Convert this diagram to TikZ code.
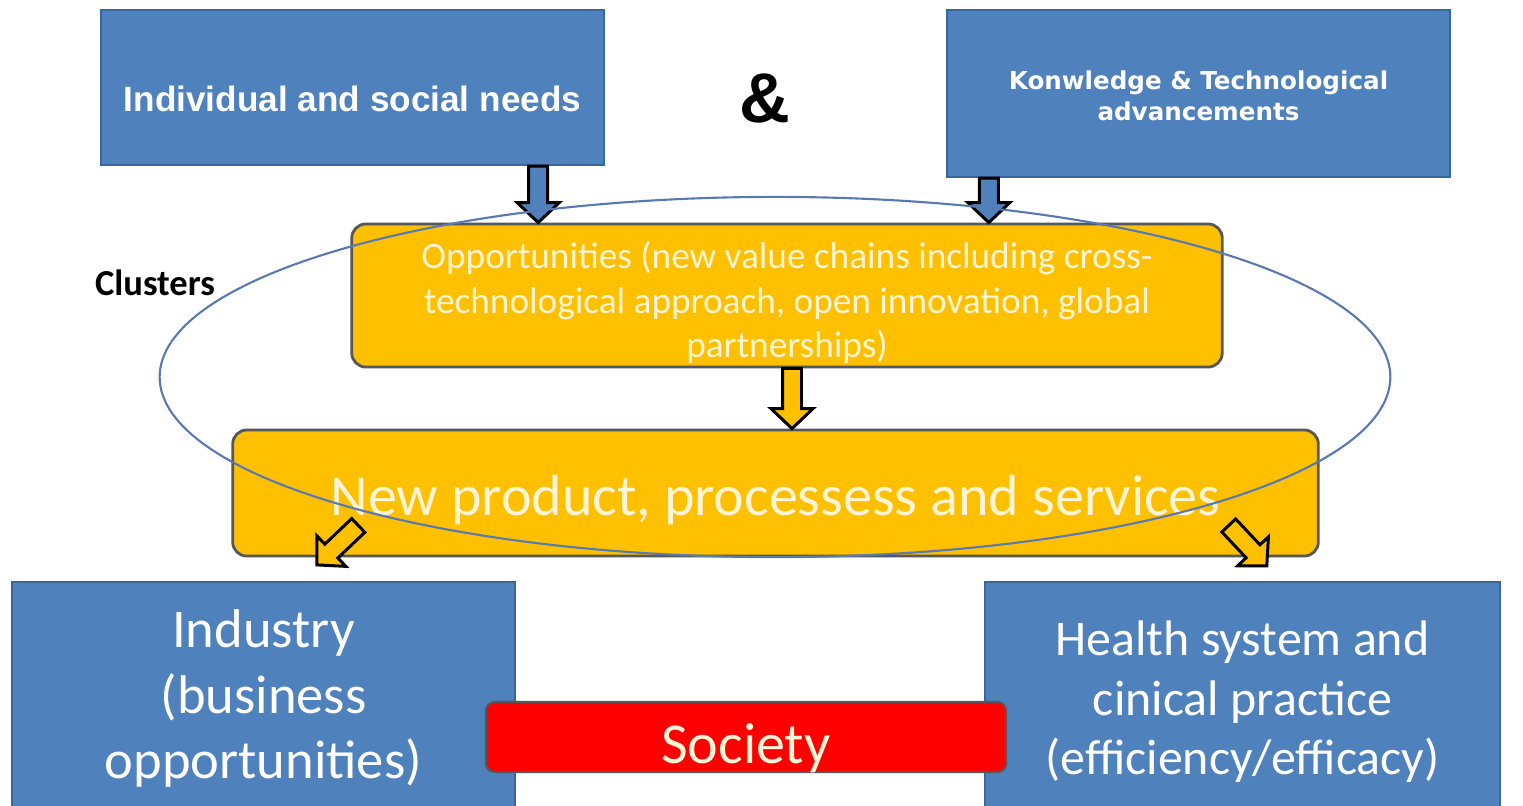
\documentclass[tikz,border=0pt]{standalone}
\usepackage{fontspec}
\usetikzlibrary{calc,shapes.geometric}
\newfontfamily\carlito{Carlito}
\newfontfamily\arialfont{Liberation Sans}
\newfontfamily\verdfont{DejaVu Sans}
\definecolor{boxblue}{HTML}{4F81BD}
\definecolor{blueline}{HTML}{3B6699}
\definecolor{boxorange}{HTML}{FFC000}
\definecolor{orangeline}{HTML}{55575A}
\definecolor{creamtext}{HTML}{FFF4D6}
\definecolor{clusterline}{HTML}{5A78B2}
\definecolor{societyred}{HTML}{FF0000}

\tikzset{
  bluebox/.style={draw=blueline, fill=boxblue, line width=0.6pt, text=white, align=center, inner sep=0pt},
  orangebox/.style={draw=orangeline, fill=boxorange, line width=0.8pt, rounded corners=4pt, text=creamtext, align=center, inner sep=0pt},
  redbox/.style={draw=orangeline, fill=societyred, line width=0.6pt, rounded corners=2.5pt, text=creamtext, align=center, inner sep=0pt},
  arrowblue/.style={draw=black, fill=boxblue, line width=0.85pt, line join=miter},
  arroworange/.style={draw=black, fill=boxorange, line width=0.85pt, line join=miter}
}

% text lines moved down inside a box
\newcommand{\dropby}[2]{\raisebox{-#1}[\height][\depth]{\begin{tabular}{@{}c@{}}#2\end{tabular}}}

% block arrow: tail, tip, style
\newcommand{\blockarrow}[3]{%
  \path (#1) coordinate (ba-s) (#2) coordinate (ba-t);
  \coordinate (ba-h) at ($(ba-t)!5.7pt!(ba-s)$);
  \draw[#3] ($(ba-s)!2.7pt!90:(ba-t)$) -- ($(ba-h)!2.7pt!90:(ba-t)$)
    -- ($(ba-h)!6pt!90:(ba-t)$) -- (ba-t) -- ($(ba-h)!6pt!-90:(ba-t)$)
    -- ($(ba-h)!2.7pt!-90:(ba-t)$) -- ($(ba-s)!2.7pt!-90:(ba-t)$) -- cycle;
}

\begin{document}
\begin{tikzpicture}[x=0.01cm, y=-0.01cm]
  \useasboundingbox[fill=white] (0,0) rectangle (1523,805);

  \node[bluebox, minimum width=5.03cm, minimum height=1.55cm, font=\arialfont\bfseries\fontsize{10}{12}\selectfont] (needs) at (352.5,87.5)
    {\dropby{4.3pt}{Individual and social needs}};
  \node[bluebox, minimum width=5.03cm, minimum height=1.67cm, font=\verdfont\bfseries\fontsize{7}{8.8}\selectfont] (know) at (1198.5,93.5)
    {\dropby{1.6pt}{Konwledge \& Technological\\advancements}};
  \node[font=\arialfont\bfseries\fontsize{20}{24}\selectfont] (amp) at (765,98) {\&};

  \node[orangebox, minimum width=8.7cm, minimum height=1.43cm, font=\carlito\fontsize{10.6}{12.7}\selectfont] (opp) at (787,295.5)
    {\dropby{2.5pt}{Opportunities (new value chains including cross-\\technological approach, open innovation, global\\partnerships)}};
  \node[orangebox, minimum width=10.85cm, minimum height=1.26cm, font=\carlito\fontsize{16.5}{19}\selectfont] (newp) at (775.5,493)
    {\dropby{2.6pt}{New product, processess and services}};

  \node[bluebox, minimum width=5.03cm, minimum height=2.33cm, font=\carlito\fontsize{15.5}{18.7}\selectfont] (industry) at (263.5,698.5)
    {Industry\\(business\\opportunities)};
  \node[bluebox, minimum width=5.15cm, minimum height=2.33cm, font=\carlito\fontsize{14.2}{17}\selectfont] (health) at (1242.5,698.5)
    {\dropby{1.3pt}{Health system and\\cinical practice\\(efficiency/efficacy)}};
  \node[redbox, minimum width=5.2cm, minimum height=0.7cm, font=\carlito\fontsize{16.5}{19}\selectfont] (society) at (746,737)
    {\dropby{3.6pt}{Society}};

  \blockarrow{$(needs.south east)+(-67,0)$}{$(needs.south east |- opp.north)+(-67,0)$}{arrowblue}
  \blockarrow{$(know.south west)+(43,0)$}{$(know.south west |- opp.north)+(43,0)$}{arrowblue}
  \blockarrow{$(opp.south)+(5,0)$}{$(opp.south |- newp.north)+(5,0)$}{arroworange}
  \blockarrow{$(newp.south west)+(127,-32)$}{$(industry.north west)+(306,-16)$}{arroworange}
  \blockarrow{$(newp.south east)+(-91,-32)$}{$(health.north west)+(283,-15)$}{arroworange}

  \node[ellipse, draw=clusterline, line width=0.6pt, minimum width=12.3cm, minimum height=3.6cm] (cluster) at (775,377) {};
  \node[font=\carlito\bfseries\fontsize{10.4}{12}\selectfont] (clusters) at (155,283) {Clusters};
\end{tikzpicture}
\end{document}
